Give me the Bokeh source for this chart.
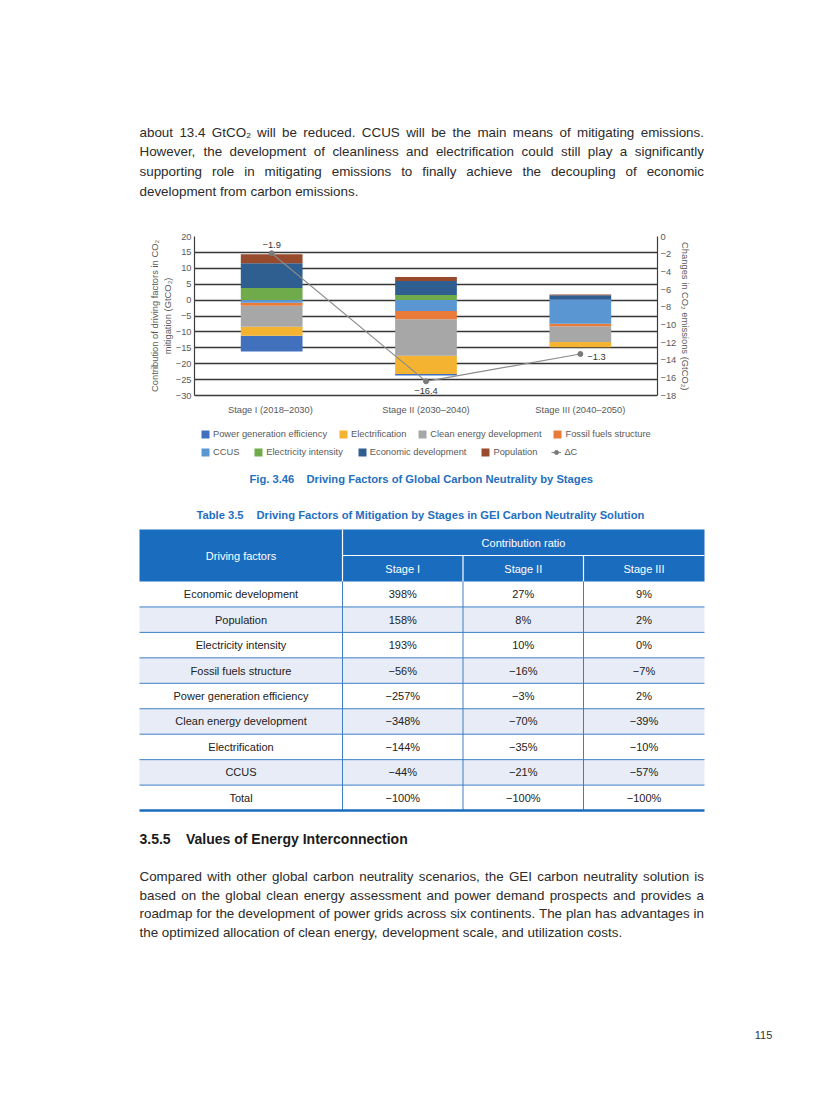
from bokeh.plotting import figure
from bokeh.models import (Range1d, FactorRange, LinearAxis, FixedTicker, Legend,
                          LegendItem, ColumnDataSource, Title)
from bokeh.embed import file_html
from bokeh.resources import INLINE
from bokeh.core.properties import value

# ------------------------------------------------------------------ data
stages = ["Stage I  (2018–2030)", "Stage II (2030–2040)", "Stage III (2040–2050)"]

power_generation_efficiency = [-5.0, -0.5, 0.3]
electrification = [-2.8, -5.7, -1.6]
clean_energy_development = [-6.6, -11.5, -5.0]
fossil_fuels_structure = [-1.0, -2.6, -0.8]
ccus = [-0.8, -3.4, -7.4]
electricity_intensity = [3.8, 1.6, 0.0]
economic_development = [7.8, 4.4, 1.2]
population = [2.8, 1.3, 0.25]

delta_c = [-1.9, -16.4, -13.3]
delta_c_labels = ["−1.9", "−16.4", "−1.3"]

left_ticks = [20, 15, 10, 5, 0, -5, -10, -15, -20, -25, -30]
right_ticks = [0, -2, -4, -6, -8, -10, -12, -14, -16, -18]

table_factors = ["Economic development", "Population", "Electricity intensity",
                 "Fossil fuels structure", "Power generation efficiency",
                 "Clean energy development", "Electrification", "CCUS", "Total"]
ratio_stage_1 = [398, 158, 193, -56, -257, -348, -144, -44, -100]
ratio_stage_2 = [27, 8, 10, -16, -3, -70, -35, -21, -100]
ratio_stage_3 = [9, 2, 0, -7, 2, -39, -10, -57, -100]
table_stage_headers = ["Stage I", "Stage II", "Stage III"]

top_paragraph = [
    "about 13.4 GtCO₂ will be reduced. CCUS will be the main means of mitigating emissions.",
    "However, the development of cleanliness and electrification could still play a significantly",
    "supporting role in mitigating emissions to finally achieve the decoupling of economic",
    "development from carbon emissions.",
]
bottom_paragraph = [
    "Compared with other global carbon neutrality scenarios, the GEI carbon neutrality solution is",
    "based on the global clean energy assessment and power demand prospects and provides a",
    "roadmap for the development of power grids across six continents. The plan has advantages in",
    "the optimized allocation of clean energy, development scale, and utilization costs.",
]

# ------------------------------------------------------------------ styles
FONT = "Liberation Sans"
BODY = "#2b2b2b"
GREY = "#595959"
BLUE = "#1f6fc0"
HEAD_BLUE = "#1a6cbf"
PAGE_W = 816

colors = {
    "Power generation efficiency": "#4170bd",
    "Electrification": "#f4b432",
    "Clean energy development": "#a7a7a7",
    "Fossil fuels structure": "#ea7a38",
    "CCUS": "#5a97d2",
    "Electricity intensity": "#6fab4b",
    "Economic development": "#2f5e90",
    "Population": "#974a2c",
}

# Helvetica / Arial (Liberation Sans) advance widths, 1/1000 em
_reg = dict(zip("abcdefghijklmnopqrstuvwxyz",
                [556, 556, 500, 556, 556, 278, 556, 556, 222, 222, 500, 222, 833, 556, 556, 556,
                 556, 333, 500, 278, 556, 500, 722, 500, 500, 500]))
_reg.update(dict(zip("ABCDEFGHIJKLMNOPQRSTUVWXYZ",
                     [667, 667, 722, 722, 667, 611, 778, 722, 278, 500, 667, 556, 833, 722, 778,
                      667, 778, 722, 667, 611, 722, 667, 944, 667, 667, 611])))
_reg.update({" ": 278, ".": 278, ",": 278, "(": 333, ")": 333, "-": 333, "–": 556,
             "−": 584, "%": 889, "₂": 340, ":": 278, ";": 278})
for d in "0123456789":
    _reg[d] = 556


def text_width(s, size):
    return sum(_reg.get(c, 556) for c in s) * size / 1000.0


def layout_line(line, x0, x1, size, full):
    words = line.split(" ")
    ws = [text_width(w, size) for w in words]
    gap = (x1 - x0 - sum(ws)) / (len(words) - 1) if (full and len(words) > 1) else text_width(" ", size)
    xs, x = [], x0
    for w in ws:
        xs.append(x)
        x += w + gap
    return words, xs


def page_fig(top, bottom):
    f = figure(width=PAGE_W, height=bottom - top, x_range=Range1d(0, PAGE_W),
               y_range=Range1d(bottom, top), output_backend="svg", toolbar_location=None,
               x_axis_type=None, y_axis_type=None, min_border=0, outline_line_color=None)
    f.grid.visible = False
    return f


def add_paragraph(f, lines, y_first, dy, size):
    W, X, Y = [], [], []
    for i, line in enumerate(lines):
        full = i < len(lines) - 1
        w, xs = layout_line(line, 139, 703.5, size, full)
        W += w
        X += xs
        Y += [y_first + i * dy] * len(w)
    f.text(x=X, y=Y, text=W, text_font=value(FONT), text_font_size=value(f"{size}px"),
           text_color=BODY, text_baseline="middle", text_align="left")


# ------------------------------------------------------------------ top text
TOP0, TOP1 = 0, 220
ptop = page_fig(TOP0, TOP1)
add_paragraph(ptop, top_paragraph, 131.5, 19.7, 13.4)

# ------------------------------------------------------------------ chart
# the frame runs down to the figure bottom so that the legend rows sit inside it;
# the value axes are bounded to the chart's own data range.
CH0, CH1 = 220, 466
FRAME_L, FRAME_R, FRAME_T, AXIS_Y = 194, 657, 236, 395
L_MIN, L_MAX = -30, 20
R_MIN, R_MAX = -18, 0
l_px = (AXIS_Y - FRAME_T) / (L_MAX - L_MIN)
r_px = (AXIS_Y - FRAME_T) / (R_MAX - R_MIN)
l_start = L_MIN - (CH1 - AXIS_Y) / l_px
r_start = R_MIN - (CH1 - AXIS_Y) / r_px

p = figure(x_range=FactorRange(*stages), y_range=Range1d(l_start, L_MAX), width=PAGE_W,
           height=CH1 - CH0, output_backend="svg", toolbar_location=None,
           min_border_left=FRAME_L, min_border_right=PAGE_W - FRAME_R,
           min_border_top=FRAME_T - CH0, min_border_bottom=0,
           outline_line_color=None)
p.extra_y_ranges = {"right": Range1d(r_start, R_MAX)}

series = {
    "Power generation efficiency": power_generation_efficiency,
    "Electrification": electrification,
    "Clean energy development": clean_energy_development,
    "Fossil fuels structure": fossil_fuels_structure,
    "CCUS": ccus,
    "Electricity intensity": electricity_intensity,
    "Economic development": economic_development,
    "Population": population,
}
pos_order = ["Power generation efficiency", "Electricity intensity", "Economic development", "Population"]
neg_order = ["CCUS", "Fossil fuels structure", "Clean energy development", "Electrification",
             "Power generation efficiency"]

bounds = {k: ([0.0] * len(stages), [0.0] * len(stages)) for k in series}
cum = [0.0] * len(stages)
for name in pos_order:
    for i, v in enumerate(series[name]):
        if v > 0:
            bounds[name][0][i] = cum[i]
            bounds[name][1][i] = cum[i] + v
            cum[i] += v
cum = [0.0] * len(stages)
for name in neg_order:
    for i, v in enumerate(series[name]):
        if v < 0:
            bounds[name][0][i] = cum[i]
            bounds[name][1][i] = cum[i] + v
            cum[i] += v

renderers = {}
for name in series:
    src = ColumnDataSource(dict(x=stages, bottom=bounds[name][0], top=bounds[name][1]))
    renderers[name] = p.vbar(x="x", bottom="bottom", top="top", width=0.4, source=src,
                             fill_color=colors[name], line_color=None)

dsrc = ColumnDataSource(dict(x=stages, y=delta_c, label=delta_c_labels,
                             xo=[0, 0, 7], yo=[-8, 10, 3],
                             align=["center", "center", "left"]))
dline = p.line(x="x", y="y", source=dsrc, y_range_name="right", line_color="#8c8c8c",
               line_width=1.2)
dpts = p.scatter(x="x", y="y", source=dsrc, y_range_name="right", size=5,
                 fill_color="#7a7a7a", line_color="#7a7a7a")
p.text(x="x", y="y", text="label", source=dsrc, y_range_name="right", x_offset="xo",
       y_offset="yo", text_align="align", text_baseline="middle",
       text_font=value(FONT), text_font_size=value("9.3px"), text_color="#333333")

# axes
ya = p.yaxis[0]
ya.ticker = FixedTicker(ticks=left_ticks)
ya.bounds = (L_MIN, L_MAX)
ya.major_label_overrides = {t: (("−" + str(abs(t))) if t < 0 else str(t)) for t in left_ticks}
ra = LinearAxis(y_range_name="right", ticker=FixedTicker(ticks=right_ticks), bounds=(R_MIN, R_MAX))
ra.major_label_overrides = {t: (("−" + str(abs(t))) if t < 0 else str(t)) for t in right_ticks}
p.add_layout(ra, "right")
xa = p.xaxis[0]
xa.fixed_location = L_MIN

for ax in [ya, ra, xa]:
    ax.axis_line_color = "#3c3c3c"
    ax.axis_line_width = 1.2
    ax.major_tick_line_color = None
    ax.minor_tick_line_color = None
    ax.major_tick_out = 0
    ax.major_tick_in = 0
    ax.major_label_text_font = FONT
    ax.major_label_text_font_size = "9.3px"
    ax.major_label_text_color = GREY
    ax.major_label_standoff = 3
xa.major_label_standoff = 9

# axis titles as side-panel titles, centred on the bounded value axes
TITLE_SIZE = 9.4
mid_y = (FRAME_T + AXIS_Y) / 2.0
title_kw = dict(text_font=FONT, text_font_size=f"{TITLE_SIZE}px", text_font_style="normal",
                text_color=GREY, align="left")
has_standoff = "standoff" in Title.properties()
for txt in ["mitigation (GtCO₂)", "Contribution of driving factors in CO₂"]:
    off = (CH1 - mid_y) - text_width(txt, TITLE_SIZE) / 2.0
    t = Title(text=txt, offset=off, **title_kw)
    if has_standoff:
        t.standoff = 0
    p.add_layout(t, "left")
rtxt = "Changes in CO₂ emissions (GtCO₂)"
tr = Title(text=rtxt, offset=(mid_y - FRAME_T) - text_width(rtxt, TITLE_SIZE) / 2.0, **title_kw)
if has_standoff:
    tr.standoff = 0
p.add_layout(tr, "right")

p.xgrid.grid_line_color = None
p.ygrid.ticker = FixedTicker(ticks=left_ticks)
p.ygrid.grid_line_color = "#363636"
p.ygrid.grid_line_width = 1.3

leg_common = dict(orientation="horizontal", glyph_width=10, glyph_height=10,
                  label_height=12, label_standoff=3, padding=0, margin=0,
                  border_line_color=None, background_fill_alpha=0, label_text_font=FONT,
                  label_text_font_size="9.3px", label_text_color=GREY)
row1 = ["Power generation efficiency", "Electrification", "Clean energy development",
        "Fossil fuels structure"]
row2 = ["CCUS", "Electricity intensity", "Economic development", "Population"]
leg1 = Legend(items=[LegendItem(label=n, renderers=[renderers[n]]) for n in row1],
              location=(6, 26), spacing=11, **leg_common)
leg2 = Legend(items=[LegendItem(label=n, renderers=[renderers[n]]) for n in row2] +
              [LegendItem(label="ΔC", renderers=[dline, dpts])],
              location=(6, 8), spacing=14, **leg_common)
p.add_layout(leg1)
p.add_layout(leg2)

# ------------------------------------------------------------------ bottom page part
BT0, BT1 = 466, 1090
pb = page_fig(BT0, BT1)

pb.text(x=[249, 306], y=[478, 478],
        text=["Fig. 3.46", "Driving Factors of Global Carbon Neutrality by Stages"],
        text_font=value(FONT), text_font_size=value("11.2px"), text_font_style="bold",
        text_color=BLUE, text_baseline="middle", text_align="left")
pb.text(x=[196, 256], y=[514, 514],
        text=["Table 3.5", "Driving Factors of Mitigation by Stages in GEI Carbon Neutrality Solution"],
        text_font=value(FONT), text_font_size=value("11.2px"), text_font_style="bold",
        text_color=BLUE, text_baseline="middle", text_align="left")

col_edges = [139, 342, 462.5, 583, 704]
h_top, h_mid, h_bot = 529, 555, 581
row_h = 25.45
n = len(table_factors)
row_tops = [h_bot + i * row_h for i in range(n)]
row_bots = [t + row_h for t in row_tops]
tab_bottom = row_bots[-1]

pb.quad(left=[col_edges[0]], right=[col_edges[-1]], top=[h_top], bottom=[h_bot],
        fill_color=HEAD_BLUE, line_color=None)
shade = [i for i in range(n) if i % 2 == 1]
pb.quad(left=[col_edges[0]] * len(shade), right=[col_edges[-1]] * len(shade),
        top=[row_tops[i] for i in shade], bottom=[row_bots[i] for i in shade],
        fill_color="#e7ecf6", line_color=None)
pb.segment(x0=[col_edges[1], col_edges[1], col_edges[2], col_edges[3]],
           x1=[col_edges[1], col_edges[4], col_edges[2], col_edges[3]],
           y0=[h_top, h_mid, h_mid, h_mid], y1=[h_bot, h_mid, h_bot, h_bot],
           line_color="white", line_width=1.2)
pb.segment(x0=[col_edges[0]] * (n - 1), x1=[col_edges[-1]] * (n - 1),
           y0=row_bots[:-1], y1=row_bots[:-1], line_color="#3d7fc6", line_width=1)
pb.segment(x0=col_edges[1:4], x1=col_edges[1:4], y0=[h_bot] * 3, y1=[tab_bottom] * 3,
           line_color="#3d7fc6", line_width=1)
pb.segment(x0=[col_edges[0]], x1=[col_edges[-1]], y0=[tab_bottom], y1=[tab_bottom],
           line_color=HEAD_BLUE, line_width=2.5)

centers = [(col_edges[i] + col_edges[i + 1]) / 2 for i in range(4)]
pb.text(x=[centers[0], (col_edges[1] + col_edges[4]) / 2] + centers[1:],
        y=[(h_top + h_bot) / 2, (h_top + h_mid) / 2] + [(h_mid + h_bot) / 2] * 3,
        text=["Driving factors", "Contribution ratio"] + table_stage_headers,
        text_font=value(FONT), text_font_size=value("11px"), text_color="white",
        text_baseline="middle", text_align="center")


def pct(v):
    return ("−" if v < 0 else "") + f"{abs(v)}%"


cells_x, cells_y, cells_t = [], [], []
for i in range(n):
    yc = (row_tops[i] + row_bots[i]) / 2
    row = [table_factors[i], pct(ratio_stage_1[i]), pct(ratio_stage_2[i]), pct(ratio_stage_3[i])]
    for j in range(4):
        cells_x.append(centers[j])
        cells_y.append(yc)
        cells_t.append(row[j])
pb.text(x=cells_x, y=cells_y, text=cells_t, text_font=value(FONT),
        text_font_size=value("11px"), text_color="#222222", text_baseline="middle",
        text_align="center")

pb.text(x=[139, 185.5], y=[838, 838], text=["3.5.5", "Values of Energy Interconnection"],
        text_font=value(FONT), text_font_size=value("14px"), text_font_style="bold",
        text_color="#1a1a1a", text_baseline="middle", text_align="left")

add_paragraph(pb, bottom_paragraph, 876, 18.7, 13.4)

pb.text(x=[763], y=[1034], text=["115"], text_font=value(FONT), text_font_size=value("11px"),
        text_color="#333333", text_baseline="middle", text_align="center")

open("out.html", "w").write(file_html([ptop, p, pb], INLINE))
